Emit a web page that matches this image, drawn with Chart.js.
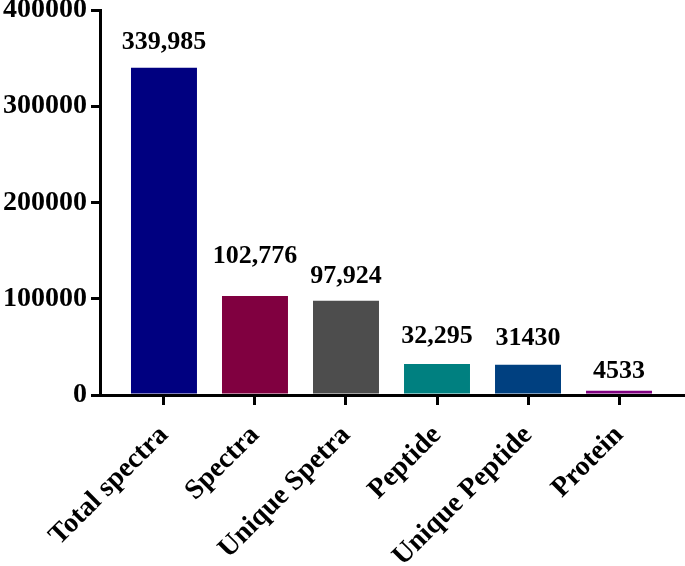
<!DOCTYPE html>
<html>
<head>
<meta charset="utf-8">
<script src="https://cdn.jsdelivr.net/npm/chart.js@4"></script>
<style>
    html, body { margin: 0; padding: 0; background: #fff; }
</style>
</head>
<body>
<canvas id="count-chart" width="685" height="566"></canvas>
<script>
const categories = ["Total spectra", "Spectra", "Unique Spetra", "Peptide", "Unique Peptide", "Protein"];
const counts = [339985, 102776, 97924, 32295, 31430, 4533];
const countLabels = ["339,985", "102,776", "97,924", "32,295", "31430", "4533"];
const barColors = ["#000080", "#800040", "#4d4d4d", "#008080", "#004080", "#800080"];
const yTicks = [0, 100000, 200000, 300000, 400000];

// how far each number sits above its bar (px), the original places them by hand
const labelLift = [19, 33, 18, 21, 20, 13];

const serif = "'Liberation Serif', 'Times New Roman', serif";
Chart.defaults.font.family = serif;
Chart.defaults.color = "#000";

// Draw the count above every bar
const valueLabels = {
    id: "valueLabels",
    afterDatasetsDraw(chart) {
        const ctx = chart.ctx;
        const bars = chart.getDatasetMeta(0).data;
        ctx.save();
        ctx.font = "bold 26px " + serif;
        ctx.fillStyle = "#000";
        ctx.textAlign = "center";
        ctx.textBaseline = "alphabetic";
        bars.forEach((bar, i) => {
            ctx.fillText(countLabels[i], bar.x, bar.y - labelLift[i]);
        });
        ctx.restore();
    }
};

new Chart(document.getElementById("count-chart"), {
    type: "bar",
    data: {
        datasets: [{
            data: counts.map((v, i) => ({ x: i, y: v })),
            backgroundColor: barColors,
            borderWidth: 0,
            barPercentage: 0.725,
            categoryPercentage: 1
        }]
    },
    options: {
        responsive: false,
        animation: false,
        layout: { padding: { left: 0, right: 2, top: 0, bottom: 0 } },
        plugins: {
            legend: { display: false },
            tooltip: { enabled: false }
        },
        scales: {
            x: {
                type: "linear",
                bounds: "data",
                offset: false,
                min: -0.703,
                max: 5.703,
                afterBuildTicks: scale => {
                    scale.ticks = categories.map((c, i) => ({ value: i }));
                },
                afterFit: scale => {
                    scale.height = 171;
                    scale.paddingLeft = 0;
                    scale.paddingRight = 0;
                },
                ticks: {
                    autoSkip: false,
                    minRotation: 45,
                    maxRotation: 45,
                    padding: 14,
                    color: "#000",
                    font: { size: 28, weight: "bold" },
                    callback: v => categories[v]
                },
                grid: {
                    offset: false,
                    drawOnChartArea: false,
                    tickLength: 10,
                    lineWidth: 3,
                    color: "#000"
                },
                border: { display: true, width: 3, color: "#000" }
            },
            y: {
                bounds: "data",
                min: 0,
                max: 400000,
                afterBuildTicks: scale => {
                    scale.ticks = yTicks.map(v => ({ value: v }));
                },
                afterFit: scale => {
                    scale.width = 100;
                    scale.paddingTop = 10;
                    scale.paddingBottom = 0;
                },
                ticks: {
                    padding: 4,
                    color: "#000",
                    font: { size: 28, weight: "bold" },
                    callback: v => String(v)
                },
                grid: {
                    drawOnChartArea: false,
                    tickLength: 9,
                    lineWidth: 3,
                    color: "#000"
                },
                border: { display: true, width: 3, color: "#000" }
            }
        }
    },
    plugins: [valueLabels]
});
</script>
</body>
</html>
